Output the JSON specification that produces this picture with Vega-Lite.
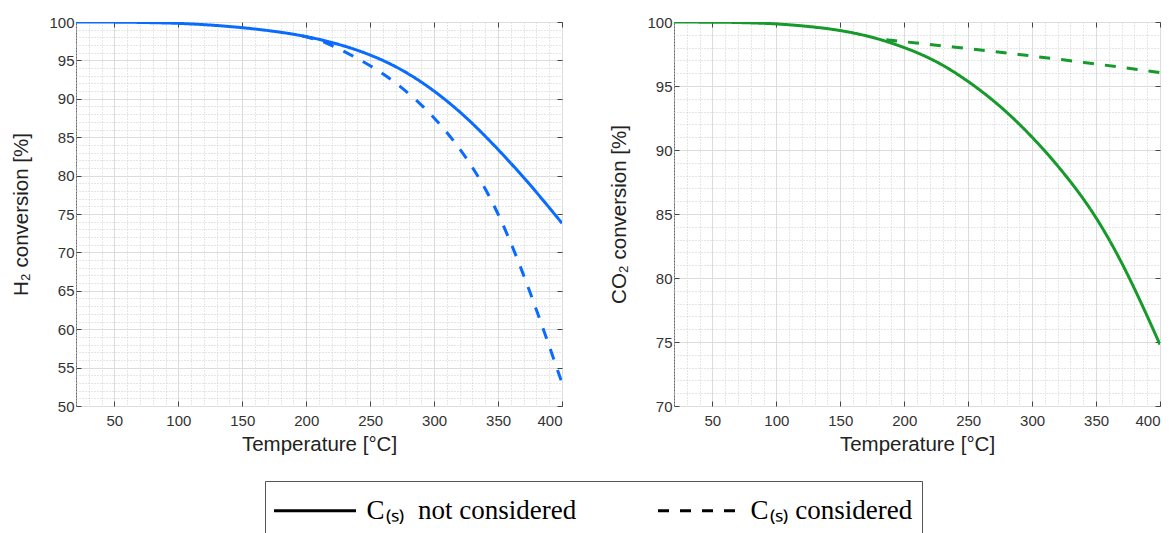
{
  "$schema": "https://vega.github.io/schema/vega-lite/v6.json",
  "padding": {"left": 11, "top": 14, "right": 0, "bottom": 0},
  "background": "white",
  "config": {
    "view": {"stroke": "#666", "strokeWidth": 1},
    "concat": {"spacing": 46},
    "axis": {
      "labelFont": "Liberation Sans", "labelFontSize": 15, "labelColor": "#333",
      "titleFont": "Liberation Sans", "titleFontSize": 20.5, "titleFontWeight": "normal", "titleColor": "#222",
      "domain": false, "tickColor": "#444", "tickSize": -5, "tickWidth": 1, "labelOverlap": false
    },
    "legend": {
      "orient": "none", "direction": "horizontal", "legendX": 189, "legendY": 459,
      "symbolType": "M-2.2,0H2.2", "symbolSize": 1389, "symbolStrokeWidth": 3, "symbolStrokeColor": "black",
      "symbolOffset": 20.5, "labelOffset": 31,
      "labelFont": "Liberation Serif", "labelFontSize": 27, "labelColor": "black", "labelLimit": 0,
      "columnPadding": 75, "padding": 9, "strokeColor": "#555", "fillColor": "white"
    }
  },
  "datasets": {
    "d": [
      {"p": "H2", "c": "C₍ₛ₎\u00a0 not considered", "T": 20, "v": 100},
      {"p": "H2", "c": "C₍ₛ₎\u00a0 not considered", "T": 40, "v": 99.99},
      {"p": "H2", "c": "C₍ₛ₎\u00a0 not considered", "T": 60, "v": 99.97},
      {"p": "H2", "c": "C₍ₛ₎\u00a0 not considered", "T": 80, "v": 99.91},
      {"p": "H2", "c": "C₍ₛ₎\u00a0 not considered", "T": 100, "v": 99.82},
      {"p": "H2", "c": "C₍ₛ₎\u00a0 not considered", "T": 125, "v": 99.6},
      {"p": "H2", "c": "C₍ₛ₎\u00a0 not considered", "T": 150, "v": 99.26},
      {"p": "H2", "c": "C₍ₛ₎\u00a0 not considered", "T": 175, "v": 98.78},
      {"p": "H2", "c": "C₍ₛ₎\u00a0 not considered", "T": 200, "v": 98.1},
      {"p": "H2", "c": "C₍ₛ₎\u00a0 not considered", "T": 225, "v": 97.1},
      {"p": "H2", "c": "C₍ₛ₎\u00a0 not considered", "T": 250, "v": 95.7},
      {"p": "H2", "c": "C₍ₛ₎\u00a0 not considered", "T": 275, "v": 93.72},
      {"p": "H2", "c": "C₍ₛ₎\u00a0 not considered", "T": 300, "v": 91.0},
      {"p": "H2", "c": "C₍ₛ₎\u00a0 not considered", "T": 325, "v": 87.55},
      {"p": "H2", "c": "C₍ₛ₎\u00a0 not considered", "T": 350, "v": 83.4},
      {"p": "H2", "c": "C₍ₛ₎\u00a0 not considered", "T": 375, "v": 78.8},
      {"p": "H2", "c": "C₍ₛ₎\u00a0 not considered", "T": 400, "v": 73.8},
      {"p": "H2", "c": "C₍ₛ₎ considered\u00a0", "T": 197, "v": 98.18},
      {"p": "H2", "c": "C₍ₛ₎ considered\u00a0", "T": 210, "v": 97.6},
      {"p": "H2", "c": "C₍ₛ₎ considered\u00a0", "T": 225, "v": 96.55},
      {"p": "H2", "c": "C₍ₛ₎ considered\u00a0", "T": 250, "v": 94.3},
      {"p": "H2", "c": "C₍ₛ₎ considered\u00a0", "T": 275, "v": 91.4},
      {"p": "H2", "c": "C₍ₛ₎ considered\u00a0", "T": 300, "v": 87.5},
      {"p": "H2", "c": "C₍ₛ₎ considered\u00a0", "T": 325, "v": 82.3},
      {"p": "H2", "c": "C₍ₛ₎ considered\u00a0", "T": 350, "v": 75.0},
      {"p": "H2", "c": "C₍ₛ₎ considered\u00a0", "T": 375, "v": 64.8},
      {"p": "H2", "c": "C₍ₛ₎ considered\u00a0", "T": 400, "v": 53.0},
      {"p": "CO2", "c": "C₍ₛ₎\u00a0 not considered", "T": 20, "v": 100},
      {"p": "CO2", "c": "C₍ₛ₎\u00a0 not considered", "T": 40, "v": 99.99},
      {"p": "CO2", "c": "C₍ₛ₎\u00a0 not considered", "T": 60, "v": 99.98},
      {"p": "CO2", "c": "C₍ₛ₎\u00a0 not considered", "T": 80, "v": 99.93},
      {"p": "CO2", "c": "C₍ₛ₎\u00a0 not considered", "T": 100, "v": 99.85},
      {"p": "CO2", "c": "C₍ₛ₎\u00a0 not considered", "T": 125, "v": 99.65},
      {"p": "CO2", "c": "C₍ₛ₎\u00a0 not considered", "T": 150, "v": 99.33},
      {"p": "CO2", "c": "C₍ₛ₎\u00a0 not considered", "T": 175, "v": 98.8},
      {"p": "CO2", "c": "C₍ₛ₎\u00a0 not considered", "T": 200, "v": 98.0},
      {"p": "CO2", "c": "C₍ₛ₎\u00a0 not considered", "T": 225, "v": 96.9},
      {"p": "CO2", "c": "C₍ₛ₎\u00a0 not considered", "T": 250, "v": 95.35},
      {"p": "CO2", "c": "C₍ₛ₎\u00a0 not considered", "T": 275, "v": 93.4},
      {"p": "CO2", "c": "C₍ₛ₎\u00a0 not considered", "T": 300, "v": 91.0},
      {"p": "CO2", "c": "C₍ₛ₎\u00a0 not considered", "T": 325, "v": 88.15},
      {"p": "CO2", "c": "C₍ₛ₎\u00a0 not considered", "T": 350, "v": 84.7},
      {"p": "CO2", "c": "C₍ₛ₎\u00a0 not considered", "T": 375, "v": 80.2},
      {"p": "CO2", "c": "C₍ₛ₎\u00a0 not considered", "T": 400, "v": 74.8},
      {"p": "CO2", "c": "C₍ₛ₎ considered\u00a0", "T": 186, "v": 98.62},
      {"p": "CO2", "c": "C₍ₛ₎ considered\u00a0", "T": 200, "v": 98.46},
      {"p": "CO2", "c": "C₍ₛ₎ considered\u00a0", "T": 250, "v": 97.92},
      {"p": "CO2", "c": "C₍ₛ₎ considered\u00a0", "T": 300, "v": 97.34},
      {"p": "CO2", "c": "C₍ₛ₎ considered\u00a0", "T": 350, "v": 96.72},
      {"p": "CO2", "c": "C₍ₛ₎ considered\u00a0", "T": 400, "v": 96.05}
    ]
  },
  "hconcat": [
    {
      "width": 486, "height": 384,
      "data": {"name": "d"},
      "transform": [{"filter": {"field": "p", "equal": "H2"}}],
      "layer": [
        {
          "transform": [{"filter": {"field": "c", "equal": "C₍ₛ₎\u00a0 not considered"}}],
          "mark": {"type": "line", "color": "#0a6cff", "strokeWidth": 3, "interpolate": "natural", "clip": true},
          "encoding": {
            "x": {"field": "T", "type": "quantitative", "scale": {"domain": [20, 400], "nice": false, "zero": false},
              "axis": {"orient": "bottom", "title": "Temperature [°C]", "values": [20,30,40,50,60,70,80,90,100,110,120,130,140,150,160,170,180,190,200,210,220,230,240,250,260,270,280,290,300,310,320,330,340,350,360,370,380,390,400],
                "labelExpr": "datum.value % 50 === 0 ? datum.label : ''", "labelPadding": 12, "titlePadding": 6, "grid": true,
                "gridDash": {"condition": {"test": "datum.value % 50 === 0", "value": []}, "value": [1, 2]},
                "gridColor": {"condition": {"test": "datum.value % 50 === 0", "value": "#dcdcdc"}, "value": "#cdcdcd"},
                "tickOpacity": {"condition": {"test": "datum.value % 50 === 0", "value": 1}, "value": 0}}},
            "y": {"field": "v", "type": "quantitative", "scale": {"domain": [50, 100], "nice": false, "zero": false},
              "axis": {"orient": "left", "title": "H₂ conversion [%]", "values": [50,51,52,53,54,55,56,57,58,59,60,61,62,63,64,65,66,67,68,69,70,71,72,73,74,75,76,77,78,79,80,81,82,83,84,85,86,87,88,89,90,91,92,93,94,95,96,97,98,99,100],
                "labelExpr": "datum.value % 5 === 0 ? datum.label : ''", "labelPadding": 7, "titlePadding": 17, "grid": true,
                "gridDash": {"condition": {"test": "datum.value % 5 === 0", "value": []}, "value": [1, 2]},
                "gridColor": {"condition": {"test": "datum.value % 5 === 0", "value": "#dcdcdc"}, "value": "#cdcdcd"},
                "tickOpacity": {"condition": {"test": "datum.value % 5 === 0", "value": 1}, "value": 0}}},
            "strokeDash": {"field": "c", "type": "nominal", "title": null,
              "scale": {"domain": ["C₍ₛ₎\u00a0 not considered", "C₍ₛ₎ considered\u00a0"], "range": [[1, 0], [11, 11]]},
              "legend": {"encode": {"symbols": {"update": {"stroke": {"value": "black"}}}}}}
          }
        },
        {
          "transform": [{"filter": {"field": "c", "equal": "C₍ₛ₎ considered\u00a0"}}],
          "mark": {"type": "line", "color": "#0a6cff", "strokeWidth": 3, "interpolate": "natural", "clip": true},
          "encoding": {
            "x": {"field": "T", "type": "quantitative", "axis": {"orient": "top", "title": null, "labels": false, "grid": false, "values": [50,100,150,200,250,300,350,400]}},
            "y": {"field": "v", "type": "quantitative", "axis": {"orient": "right", "title": null, "labels": false, "grid": false, "values": [50,55,60,65,70,75,80,85,90,95,100]}},
            "strokeDash": {"field": "c", "type": "nominal", "title": null,
              "scale": {"domain": ["C₍ₛ₎\u00a0 not considered", "C₍ₛ₎ considered\u00a0"], "range": [[1, 0], [11, 11]]},
              "legend": {"encode": {"symbols": {"update": {"stroke": {"value": "black"}}}}}}
          }
        }
      ],
      "resolve": {"axis": {"x": "independent", "y": "independent"}}
    },
    {
      "width": 486, "height": 384,
      "data": {"name": "d"},
      "transform": [{"filter": {"field": "p", "equal": "CO2"}}],
      "layer": [
        {
          "transform": [{"filter": {"field": "c", "equal": "C₍ₛ₎\u00a0 not considered"}}],
          "mark": {"type": "line", "color": "#169a2c", "strokeWidth": 3, "interpolate": "natural", "clip": true},
          "encoding": {
            "x": {"field": "T", "type": "quantitative", "scale": {"domain": [20, 400], "nice": false, "zero": false},
              "axis": {"orient": "bottom", "title": "Temperature [°C]", "values": [20,30,40,50,60,70,80,90,100,110,120,130,140,150,160,170,180,190,200,210,220,230,240,250,260,270,280,290,300,310,320,330,340,350,360,370,380,390,400],
                "labelExpr": "datum.value % 50 === 0 ? datum.label : ''", "labelPadding": 12, "titlePadding": 6, "grid": true,
                "gridDash": {"condition": {"test": "datum.value % 50 === 0", "value": []}, "value": [1, 2]},
                "gridColor": {"condition": {"test": "datum.value % 50 === 0", "value": "#dcdcdc"}, "value": "#cdcdcd"},
                "tickOpacity": {"condition": {"test": "datum.value % 50 === 0", "value": 1}, "value": 0}}},
            "y": {"field": "v", "type": "quantitative", "scale": {"domain": [70, 100], "nice": false, "zero": false},
              "axis": {"orient": "left", "title": "CO₂ conversion [%]", "values": [70,71,72,73,74,75,76,77,78,79,80,81,82,83,84,85,86,87,88,89,90,91,92,93,94,95,96,97,98,99,100],
                "labelExpr": "datum.value % 5 === 0 ? datum.label : ''", "labelPadding": 7, "titlePadding": 17, "grid": true,
                "gridDash": {"condition": {"test": "datum.value % 5 === 0", "value": []}, "value": [1, 2]},
                "gridColor": {"condition": {"test": "datum.value % 5 === 0", "value": "#dcdcdc"}, "value": "#cdcdcd"},
                "tickOpacity": {"condition": {"test": "datum.value % 5 === 0", "value": 1}, "value": 0}}},
            "strokeDash": {"field": "c", "type": "nominal", "title": null,
              "scale": {"domain": ["C₍ₛ₎\u00a0 not considered", "C₍ₛ₎ considered\u00a0"], "range": [[1, 0], [11, 11]]},
              "legend": {"encode": {"symbols": {"update": {"stroke": {"value": "black"}}}}}}
          }
        },
        {
          "transform": [{"filter": {"field": "c", "equal": "C₍ₛ₎ considered\u00a0"}}],
          "mark": {"type": "line", "color": "#169a2c", "strokeWidth": 3, "interpolate": "natural", "clip": true},
          "encoding": {
            "x": {"field": "T", "type": "quantitative", "axis": {"orient": "top", "title": null, "labels": false, "grid": false, "values": [50,100,150,200,250,300,350,400]}},
            "y": {"field": "v", "type": "quantitative", "axis": {"orient": "right", "title": null, "labels": false, "grid": false, "values": [70,75,80,85,90,95,100]}},
            "strokeDash": {"field": "c", "type": "nominal", "title": null,
              "scale": {"domain": ["C₍ₛ₎\u00a0 not considered", "C₍ₛ₎ considered\u00a0"], "range": [[1, 0], [11, 11]]},
              "legend": {"encode": {"symbols": {"update": {"stroke": {"value": "black"}}}}}}
          }
        }
      ],
      "resolve": {"axis": {"x": "independent", "y": "independent"}}
    }
  ]
}
